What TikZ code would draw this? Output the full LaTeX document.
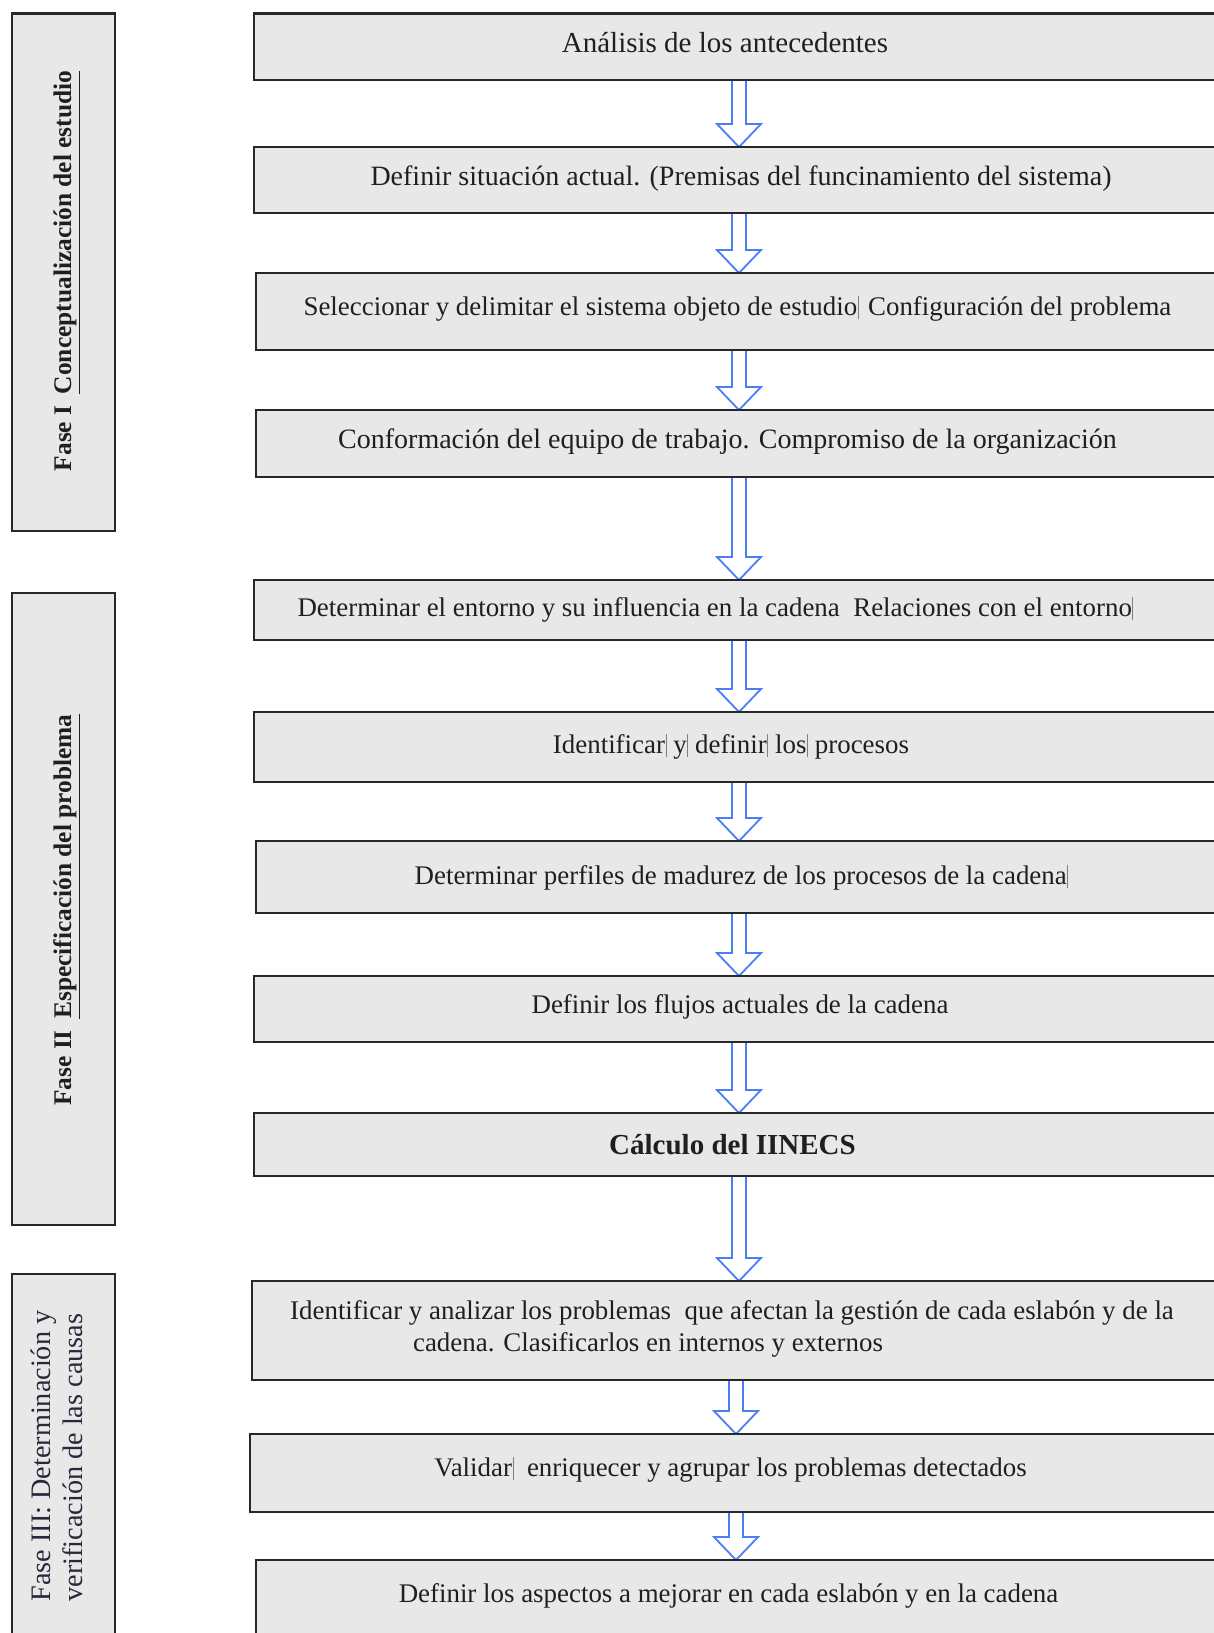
\documentclass[tikz,border=0pt]{standalone}
\usepackage{fontspec}
\setmainfont{Liberation Serif}
\usetikzlibrary{calc,fit}
\pgfdeclarelayer{bg}
\pgfsetlayers{bg,main}

\definecolor{boxfill}{RGB}{232,232,232}
\definecolor{boxline}{RGB}{40,40,40}
\definecolor{arrowblue}{RGB}{75,125,250}
\definecolor{phasetext}{RGB}{38,40,60}

% thin edit mark left inside some of the labels
\newcommand\editmark{\kern0.02em\textcolor{black!50}{\rule[-0.15em]{0.04em}{0.85em}}}

\tikzset{
  stagebox/.style={draw=boxline, fill=boxfill, line width=1.3pt, inner sep=0pt, outer sep=0pt},
  phasebox/.style={stagebox},
  stagetext/.style={font=\fontsize{13.45}{16}\selectfont, text=black!88, inner sep=0pt},
  fsize/.style={font=\fontsize{#1}{16}\selectfont},
  phasetitle/.style={font=\bfseries\fontsize{12.7}{15}\selectfont, text=black!88, rotate=90, inner sep=0pt},
  flowarrow/.style={draw=arrowblue, fill=white, line width=0.9pt, line join=miter},
}

% hollow block arrow from the bottom of #2 to the top of #3, on the vertical through #1
\newcommand\stagearrow[3]{%
  \draw[flowarrow] ($(#2.south -| #1)+(-7,0)$) -- ($(#3.north -| #1)+(-7,-23)$)
    -- ($(#3.north -| #1)+(-22,-23)$) -- (#3.north -| #1)
    -- ($(#3.north -| #1)+(22,-23)$) -- ($(#3.north -| #1)+(7,-23)$)
    -- ($(#2.south -| #1)+(7,0)$);}

\begin{document}
\begin{tikzpicture}[x=0.5pt, y=-0.5pt]
\useasboundingbox (0,0) rectangle (1214,1633);
\clip (0,0) rectangle (1214,1633);

% phase columns
\node[phasebox, fit={(12,13.5) (115,531)}] (p1) {};
\node[phasebox, fit={(12,593) (115,1225)}] (p2) {};
\node[phasebox, fit={(12,1274) (115,1660)}] (p3) {};

\node[phasetitle] (p1t) at (67,271) {Fase I\hspace{0.45em}\underline{Conceptualización del estudio}};
\node[phasetitle] (p2t) at (67,910) {Fase II\hspace{0.45em}\underline{Especificación del problema}};
\node[font=\fontsize{14.1}{16}\selectfont, text=phasetext, rotate=90, align=left, inner sep=0pt] (p3t) at (57,1456)
  {Fase III: Determinación y\\verificación de las causas};

% stage boxes
\node[stagebox, fit={(254,13.5) (1240,80)}]   (b1) {};
\node[stagebox, fit={(254,147) (1240,213)}]   (b2) {};
\node[stagebox, fit={(256,273) (1240,350)}]   (b3) {};
\node[stagebox, fit={(256,410) (1240,477)}]   (b4) {};
\node[stagebox, fit={(254,580) (1240,640)}]   (b5) {};
\node[stagebox, fit={(254,712) (1240,782)}]   (b6) {};
\node[stagebox, fit={(256,841) (1240,913)}]   (b7) {};
\node[stagebox, fit={(254,976) (1240,1042)}]  (b8) {};
\node[stagebox, fit={(254,1113) (1240,1176)}] (b9) {};
\node[stagebox, fit={(252,1281) (1240,1380)}] (b10) {};
\node[stagebox, fit={(250,1434) (1240,1512)}] (b11) {};
\node[stagebox, fit={(256,1560) (1240,1660)}] (b12) {};

% stage labels
\node[stagetext, fsize=14.5] (t1) at (725,43) {Análisis de los antecedentes};
\node[stagetext, fsize=14] (t2) at (741,178.5) {Definir situación actual. (Premisas del funcinamiento del sistema)};
\node[stagetext] (t3) at (737.5,308.5) {Seleccionar y delimitar el sistema objeto de estudio\editmark\hspace{0.35em}Configuración del problema};
\node[stagetext, fsize=14] (t4) at (727.5,441.5) {Conformación del equipo de trabajo. Compromiso de la organización};
\node[stagetext] (t5) at (715.5,609.5) {Determinar el entorno y su influencia en la cadena\hspace{0.5em}Relaciones con el entorno\editmark};
\node[stagetext] (t6) at (731,746.5) {Identificar\editmark{} y\editmark{} definir\editmark{} los\editmark{} procesos};
\node[stagetext] (t7) at (741.5,877.5) {Determinar perfiles de madurez de los procesos de la cadena\editmark};
\node[stagetext] (t8) at (740,1006.5) {Definir los flujos actuales de la cadena};
\node[stagetext, font=\bfseries\fontsize{14.5}{17}\selectfont] (t9) at (732.5,1145) {Cálculo del IINECS};
\node[stagetext] (t10a) at (732,1312.5) {Identificar y analizar los problemas\hspace{0.5em}que afectan la gestión de cada eslabón y de la};
\node[stagetext] (t10b) at (648,1344.5) {cadena. Clasificarlos en internos y externos};
\node[stagetext] (t11) at (730.5,1469.5) {Validar\editmark\hspace{0.5em}enriquecer y agrupar los problemas detectados};
\node[stagetext] (t12) at (728.5,1595.5) {Definir los aspectos a mejorar en cada eslabón y en la cadena};

% axes of the connectors
\coordinate (axA) at (739,0);
\coordinate (axB) at (736,0);

\begin{pgfonlayer}{bg}
\stagearrow{axA}{b1}{b2}
\stagearrow{axA}{b2}{b3}
\stagearrow{axA}{b3}{b4}
\stagearrow{axA}{b4}{b5}
\stagearrow{axA}{b5}{b6}
\stagearrow{axA}{b6}{b7}
\stagearrow{axA}{b7}{b8}
\stagearrow{axA}{b8}{b9}
\stagearrow{axA}{b9}{b10}
\stagearrow{axB}{b10}{b11}
\stagearrow{axB}{b11}{b12}
\end{pgfonlayer}
\end{tikzpicture}
\end{document}
